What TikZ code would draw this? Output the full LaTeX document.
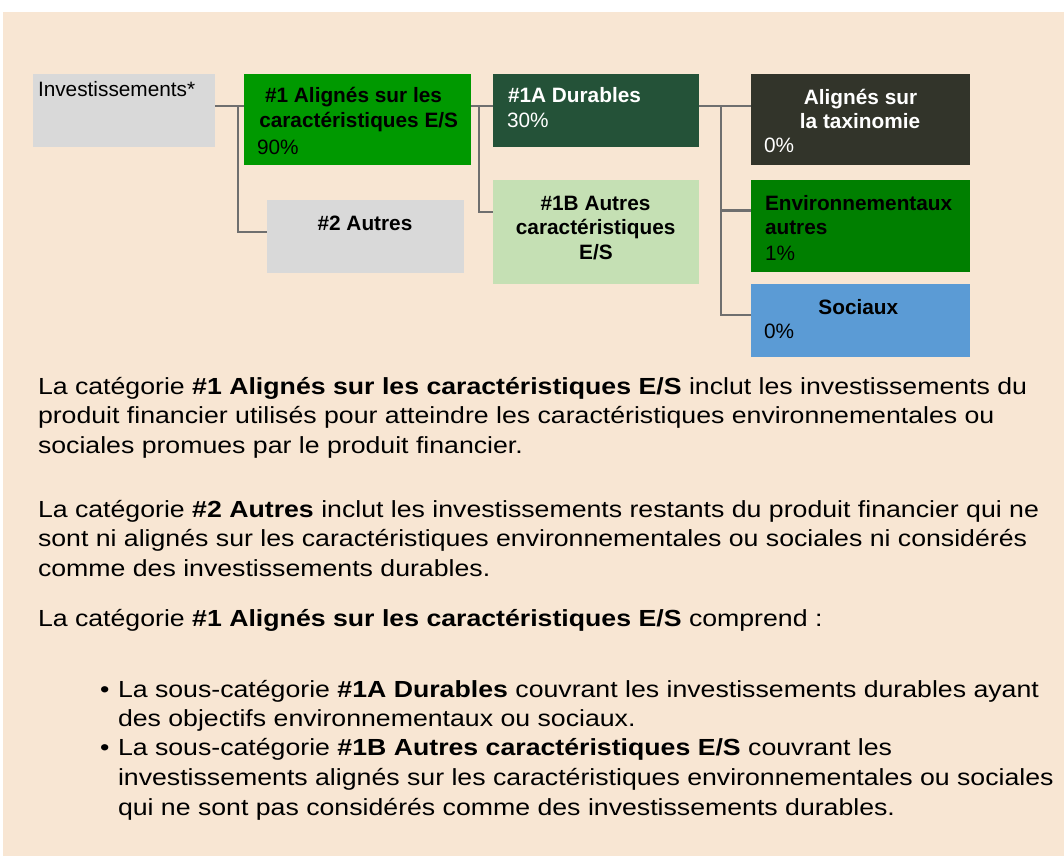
\documentclass[tikz,border=0pt]{standalone}
\usepackage{fontspec}
\setmainfont{Liberation Sans}
\newfontfamily\parafont[FakeStretch=1.145]{Liberation Sans}
\definecolor{bgbeige}{HTML}{F8E6D3}
\definecolor{greybox}{HTML}{D9D9D9}
\definecolor{greenA}{HTML}{009900}
\definecolor{darkgreen}{HTML}{245238}
\definecolor{lightgreen}{HTML}{C5E0B4}
\definecolor{taxdark}{HTML}{32342A}
\definecolor{envgreen}{HTML}{007F00}
\definecolor{socblue}{HTML}{5B9BD5}
\definecolor{connline}{HTML}{6F6F6F}
\tikzset{
  box/.style={draw=none, inner sep=0, outer sep=0},
  conn/.style={draw=connline, line width=2.4pt},
  btxt/.style={inner sep=0, outer sep=0, font=\fontsize{20.8}{25}\selectfont},
  ptxt/.style={inner sep=0, outer sep=0, anchor=base west, font=\parafont\fontsize{23.3}{29}\selectfont},
}
\begin{document}
\begin{tikzpicture}[x=1pt,y=-1pt]
\useasboundingbox (0,0) rectangle (1064,856);
\fill[bgbeige] (3,12) rectangle (1064,856);

% boxes
\node[box, fill=greybox, minimum width=182, minimum height=73] (inv) at (124,110.5) {};
\node[box, fill=greenA, minimum width=227, minimum height=91] (n1) at (357.5,119.5) {};
\node[box, fill=greybox, minimum width=197, minimum height=73] (n2) at (365.5,236.5) {};
\node[box, fill=darkgreen, minimum width=206, minimum height=73] (n1a) at (596,110.5) {};
\node[box, fill=lightgreen, minimum width=206, minimum height=104] (n1b) at (596,232) {};
\node[box, fill=taxdark, minimum width=219, minimum height=91] (tax) at (860.5,119.5) {};
\node[box, fill=envgreen, minimum width=219, minimum height=92] (env) at (860.5,226) {};
\node[box, fill=socblue, minimum width=219, minimum height=73] (soc) at (860.5,320.5) {};

% box texts
\node[btxt, anchor=base west] (tinv) at (38,96) {Investissements*};
\node[btxt, anchor=base] (t1a) at (353.5,102.7) {\textbf{\#1 Alignés sur les}};
\node[btxt, anchor=base] (t1b) at (358.7,128) {\textbf{caractéristiques E/S}};
\node[btxt, anchor=base west] (t1c) at (257,154) {90\%};
\node[btxt, anchor=base] (t2) at (365,230) {\textbf{\#2 Autres}};
\node[btxt, anchor=base west, text=white] (t1Aa) at (508,102.7) {\textbf{\#1A Durables}};
\node[btxt, anchor=base west, text=white] (t1Ab) at (507,127.7) {30\%};
\node[btxt, anchor=base] (t1Ba) at (595.5,210) {\textbf{\#1B Autres}};
\node[btxt, anchor=base] (t1Bb) at (595.7,234) {\textbf{caractéristiques}};
\node[btxt, anchor=base] (t1Bc) at (596,259) {\textbf{E/S}};
\node[btxt, anchor=base, text=white] (ttaxa) at (860.5,104) {\textbf{Alignés sur}};
\node[btxt, anchor=base, text=white] (ttaxb) at (860,128.3) {\textbf{la taxinomie}};
\node[btxt, anchor=base west, text=white] (ttaxc) at (764,152.7) {0\%};
\node[btxt, anchor=base west] (tenva) at (765,210) {\textbf{Environnementaux}};
\node[btxt, anchor=base west] (tenvb) at (765,234) {\textbf{autres}};
\node[btxt, anchor=base west] (tenvc) at (765,260) {1\%};
\node[btxt, anchor=base] (tsoca) at (858.3,314) {\textbf{Sociaux}};
\node[btxt, anchor=base west] (tsocb) at (764,338.3) {0\%};

% connectors
\coordinate (j1) at (238,106);
\coordinate (k1) at (238,232);
\draw[conn] (j1 -| inv.east) -- (j1 -| n1.west);
\draw[conn] (j1) -- (k1) -- (k1 -| n2.west);
\coordinate (j2) at (479,106);
\coordinate (k2) at (479,212);
\draw[conn] (j2 -| n1.east) -- (j2 -| n1a.west);
\draw[conn] (j2) -- (k2) -- (k2 -| n1b.west);
\coordinate (j3) at (721,106);
\coordinate (k3) at (721,210.5);
\coordinate (m3) at (721,315);
\draw[conn] (j3 -| n1a.east) -- (j3 -| tax.west);
\draw[conn] (j3) -- (m3) -- (m3 -| soc.west);
\draw[conn] (k3) -- (k3 -| env.west);

% paragraph text
\node[ptxt] (p1a) at (38,394) {La catégorie \textbf{\#1 Alignés sur les caractéristiques E/S} inclut les investissements du};
\node[ptxt] (p1b) at (38,423.5) {produit financier utilisés pour atteindre les caractéristiques environnementales ou};
\node[ptxt] (p1c) at (38,453) {sociales promues par le produit financier.};
\node[ptxt] (p2a) at (38,517) {La catégorie \textbf{\#2 Autres} inclut les investissements restants du produit financier qui ne};
\node[ptxt] (p2b) at (38,546.5) {sont ni alignés sur les caractéristiques environnementales ou sociales ni considérés};
\node[ptxt] (p2c) at (38,576) {comme des investissements durables.};
\node[ptxt] (p3) at (38,626) {La catégorie \textbf{\#1 Alignés sur les caractéristiques E/S} comprend :};
\node[ptxt] (b1) at (100,697) {•};
\node[ptxt] (b1a) at (118,697) {La sous-catégorie \textbf{\#1A Durables} couvrant les investissements durables ayant};
\node[ptxt] (b1b) at (118,726) {des objectifs environnementaux ou sociaux.};
\node[ptxt] (b2) at (100,755.5) {•};
\node[ptxt] (b2a) at (118,755.5) {La sous-catégorie \textbf{\#1B Autres caractéristiques E/S} couvrant les};
\node[ptxt] (b2b) at (118,785) {investissements alignés sur les caractéristiques environnementales ou sociales};
\node[ptxt] (b2c) at (118,815) {qui ne sont pas considérés comme des investissements durables.};
\end{tikzpicture}
\end{document}
